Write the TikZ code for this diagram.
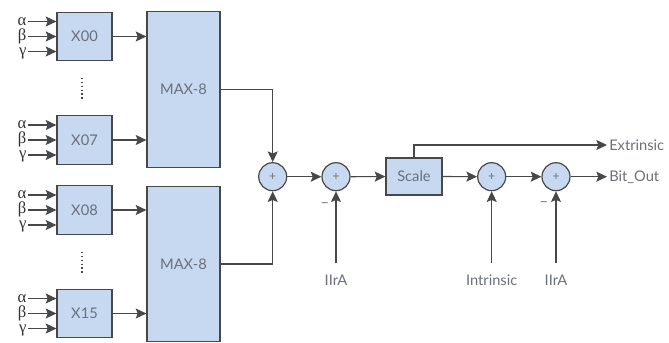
\documentclass[tikz,border=0pt]{standalone}
\usepackage{fontspec}
\setmainfont{Lato}
\newfontfamily\grk{Liberation Serif}
\usepackage{xcolor}
\usepackage{tikz}
\usetikzlibrary{arrows.meta,calc}
\definecolor{boxblue}{HTML}{C6D9F0}
\definecolor{txtgray}{HTML}{6A707C}
\definecolor{linegray}{HTML}{484848}

\begin{document}
\begin{tikzpicture}[x=0.75pt,y=-0.75pt,>={Stealth[length=8pt,width=7.5pt,inset=1.5pt]},
every node/.style={font=\fontsize{11}{13}\selectfont,text=txtgray},
blk/.style={draw=linegray,fill=boxblue,line width=0.9pt,minimum width=41.25pt,minimum height=36.5pt},
sum/.style={circle,draw=linegray,fill=boxblue,line width=0.9pt,minimum size=21pt,inner sep=0pt,font=\fontsize{9}{10}\selectfont},
wire/.style={draw=linegray,line width=0.9pt}]
\useasboundingbox (0,0) rectangle (669,343);
% input blocks
\node[blk](x00) at (84.5,36.5) {X00};
\node[blk](x07) at (84.5,140) {X07};
\node[blk](x08) at (84.5,210) {X08};
\node[blk](x15) at (84.5,313.5) {X15};
\node[blk,minimum width=54.75pt,minimum height=116.5pt](maxa) at (183.5,89.5) {MAX-8};
\node[blk,minimum width=54.75pt,minimum height=116.5pt](maxb) at (183.5,264) {MAX-8};
\foreach \b/\y in {x00/36.5,x07/140,x08/210,x15/313.5}{
\foreach \g/\n/\dy in {α/a/-15,β/b/0,γ/g/15}{
\node[anchor=east,inner sep=1pt,text height=1.5ex,text depth=0.4ex,text=black!80,font=\grk\fontsize{12.5}{14}\selectfont](\b\n) at (28,\y+\dy) {\g};
\draw[wire,->](\b\n.east)--(\b\n.east -| \b.west);}}
\draw[linegray,line width=0.9pt,dotted](82,78)--(82,100) (82,252)--(82,273);
\foreach \b/\m in {x00/maxa,x07/maxa,x08/maxb,x15/maxb}
\draw[wire,->](\b)--(\b -| \m.west);
% sums
\node[sum](s1) at (272.7,176.7) {+};
\node[sum](s2) at (336,176.7) {+};
\node[blk,minimum width=42pt,minimum height=27.75pt](scale) at (414,176.5) {Scale};
\node[sum](s3) at (491.7,176.7) {+};
\node[sum](s4) at (556,176.7) {+};
\node[anchor=west,inner sep=1.5pt](bit) at (607,176.7) {Bit\_Out};
\node[anchor=west,inner sep=1.5pt](ext) at (607,145) {Extrinsic};
\node(ia1) at (336,280) {IIrA};
\node(intr) at (491.7,280) {Intrinsic};
\node(ia2) at (556,280) {IIrA};
\node[inner sep=0pt](m1) at (325,205) {\textendash};
\node[inner sep=0pt](m2) at (544,204) {\textendash};
\draw[wire,->](maxa)-|(s1);
\draw[wire,->](maxb)-|(s1);
\draw[wire,->](s1)--(s2);
\draw[wire,->](s2)--(scale);
\draw[wire,->](scale)--(s3);
\draw[wire,->](s3)--(s4);
\draw[wire,->](s4)--(bit);
\draw[wire,->](scale)|-(ext);
\draw[wire,->,shorten <=5pt](ia1)--(s2);
\draw[wire,->,shorten <=5pt](intr)--(s3);
\draw[wire,->,shorten <=5pt](ia2)--(s4);
\end{tikzpicture}
\end{document}
